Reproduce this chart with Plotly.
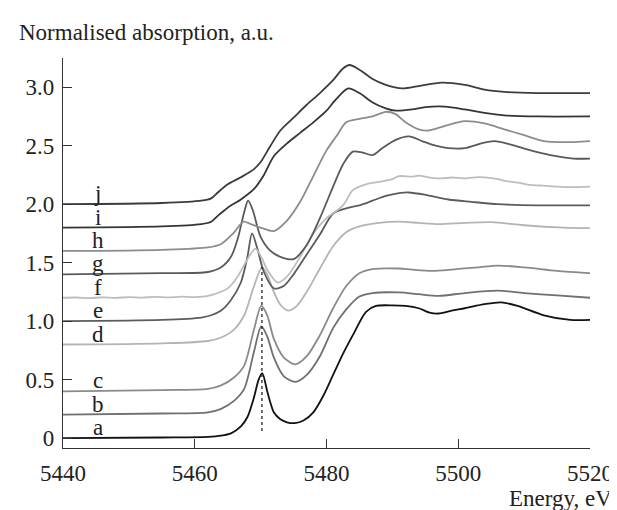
import plotly.graph_objects as go

# ---------------- data ----------------
energy_a = [5440, 5455, 5462, 5464, 5465.5, 5467, 5468, 5469, 5469.7, 5470.25, 5471, 5471.5, 5472, 5473, 5474, 5475.2,
            5476.5, 5478, 5479.5, 5481, 5482.5, 5484, 5486, 5487.5, 5490, 5492, 5494, 5495.8, 5497, 5499, 5501,
            5504, 5506.5, 5509, 5513, 5517, 5520]
abs_a = [0.0, 0.005, 0.01, 0.02, 0.04, 0.10, 0.18, 0.35, 0.50, 0.556, 0.40, 0.30, 0.22, 0.16, 0.135, 0.128,
         0.15, 0.22, 0.36, 0.54, 0.72, 0.88, 1.08, 1.13, 1.135, 1.13, 1.11, 1.07, 1.065, 1.09, 1.11,
         1.145, 1.16, 1.13, 1.05, 1.01, 1.01]

energy_b = [5440, 5455, 5462, 5464, 5466, 5467.5, 5469, 5470.1, 5471, 5472, 5473.5, 5475.3, 5477, 5479, 5481,
            5483, 5485, 5487, 5491, 5494, 5497, 5501, 5506, 5510, 5515, 5520]
abs_b = [0.2, 0.21, 0.22, 0.25, 0.32, 0.42, 0.74, 0.955, 0.87, 0.69, 0.53, 0.48, 0.54, 0.70, 0.94,
         1.10, 1.21, 1.24, 1.245, 1.23, 1.216, 1.24, 1.26, 1.24, 1.22, 1.20]

energy_c = [5440, 5455, 5462, 5464, 5466, 5467.5, 5469, 5470.1, 5471, 5472, 5473.5, 5475.3, 5477, 5479, 5481,
            5483, 5485, 5487, 5491, 5493, 5496, 5499, 5503, 5506, 5510, 5515, 5520]
abs_c = [0.4, 0.41, 0.42, 0.45, 0.52, 0.62, 0.93, 1.13, 1.05, 0.85, 0.69, 0.63, 0.70, 0.88, 1.11,
         1.30, 1.41, 1.445, 1.45, 1.44, 1.43, 1.44, 1.46, 1.475, 1.46, 1.43, 1.41]

energy_d = [5440, 5455, 5462, 5464, 5466, 5467.5, 5469, 5470.2, 5471, 5472, 5473, 5474.2, 5475.5, 5477, 5479,
            5481, 5483, 5485, 5488, 5491, 5494, 5497, 5501, 5505, 5510, 5516, 5520]
abs_d = [0.8, 0.81, 0.83, 0.86, 0.93, 1.05, 1.30, 1.46, 1.40, 1.25, 1.14, 1.09, 1.13, 1.25, 1.45,
         1.64, 1.76, 1.81, 1.84, 1.85, 1.84, 1.83, 1.84, 1.846, 1.82, 1.80, 1.795]

energy_e = [5440, 5455, 5461, 5462.5, 5464, 5465.5, 5467, 5468, 5468.7, 5469.5, 5470.5, 5472, 5473.5, 5475,
            5477, 5479, 5481, 5483, 5485, 5487, 5489, 5491, 5492.5, 5495, 5498.5, 5502, 5506, 5512, 5520]
abs_e = [1.0, 1.01, 1.03, 1.05, 1.09, 1.18, 1.33, 1.55, 1.75, 1.62, 1.42, 1.28, 1.30, 1.40,
         1.57, 1.74, 1.92, 1.965, 1.99, 2.03, 2.07, 2.094, 2.10, 2.08, 2.04, 2.02, 2.0, 1.99, 1.99]

energy_f = [5440, 5442, 5444, 5446, 5448, 5450, 5452, 5454, 5456, 5458, 5460, 5462, 5463, 5465, 5466.5, 5468,
            5469.2, 5470, 5471, 5472.6, 5474, 5476, 5478, 5480, 5482.5, 5484, 5486, 5488, 5490, 5491,
            5493, 5494, 5496, 5497.5, 5499, 5501, 5503, 5504, 5506, 5507, 5509, 5511, 5513, 5515, 5517, 5520]
abs_f = [1.20, 1.202, 1.197, 1.203, 1.199, 1.205, 1.201, 1.207, 1.203, 1.209, 1.206, 1.215, 1.23, 1.28, 1.38, 1.53,
         1.62, 1.56, 1.44, 1.33, 1.38, 1.55, 1.75, 1.88, 1.99, 2.12, 2.17, 2.19, 2.215, 2.24,
         2.235, 2.245, 2.225, 2.22, 2.228, 2.22, 2.232, 2.23, 2.215, 2.20, 2.185, 2.165, 2.158, 2.15, 2.145, 2.15]

energy_g = [5440, 5455, 5462, 5464, 5465.5, 5466.5, 5467.5, 5468.1, 5468.8, 5470, 5471.5, 5473, 5475, 5477,
            5479, 5481, 5482.5, 5484, 5485.5, 5487, 5488.5, 5490.5, 5492.5, 5494.5, 5496, 5498.5, 5501,
            5503.5, 5505.5, 5508, 5511, 5514, 5517.5, 5520]
abs_g = [1.4, 1.41, 1.42, 1.46, 1.55, 1.70, 1.93, 2.03, 1.95, 1.72, 1.60, 1.55, 1.53, 1.65,
         1.88, 2.15, 2.34, 2.45, 2.44, 2.42, 2.48, 2.55, 2.58, 2.54, 2.51, 2.48, 2.48,
         2.52, 2.54, 2.51, 2.46, 2.42, 2.39, 2.39]

energy_h = [5440, 5455, 5462, 5464, 5466, 5467.4, 5468.5, 5470, 5472, 5474, 5476, 5478, 5480, 5481.5, 5483,
            5485, 5487, 5489, 5490.5, 5492, 5494, 5495.5, 5498, 5501, 5504, 5507, 5510, 5513, 5516, 5520]
abs_h = [1.6, 1.61, 1.63, 1.66, 1.76, 1.85, 1.83, 1.80, 1.77, 1.86, 2.02, 2.24, 2.46, 2.58, 2.70,
         2.73, 2.75, 2.79, 2.77, 2.70, 2.64, 2.63, 2.67, 2.71, 2.69, 2.64, 2.59, 2.54, 2.53, 2.54]

energy_i = [5440, 5455, 5461, 5462.5, 5463.5, 5465, 5467, 5469, 5470.5, 5472, 5474, 5476, 5478, 5480, 5481.5,
            5483.3, 5485, 5487, 5489, 5490.5, 5493, 5495, 5498, 5501, 5504, 5507, 5512, 5520]
abs_i = [1.8, 1.81, 1.83, 1.85, 1.90, 1.97, 2.04, 2.13, 2.25, 2.41, 2.52, 2.61, 2.70, 2.80, 2.90,
         2.99, 2.95, 2.87, 2.82, 2.80, 2.81, 2.83, 2.835, 2.81, 2.78, 2.76, 2.75, 2.75]

energy_j = [5440, 5455, 5461, 5462.5, 5463.5, 5465, 5467, 5469, 5470, 5471.5, 5473, 5475, 5477, 5479, 5481,
            5482.5, 5483.5, 5485, 5487, 5489, 5491.5, 5494, 5497.5, 5501, 5504, 5507, 5512, 5520]
abs_j = [2.0, 2.01, 2.03, 2.05, 2.10, 2.17, 2.23, 2.30, 2.36, 2.50, 2.63, 2.74, 2.85, 2.95, 3.06,
         3.16, 3.19, 3.15, 3.07, 3.02, 2.99, 3.01, 3.04, 3.02, 2.98, 2.96, 2.95, 2.95]

curve_names = ["a", "b", "c", "d", "e", "f", "g", "h", "i", "j"]
curve_offsets = [0.0, 0.2, 0.4, 0.8, 1.0, 1.2, 1.4, 1.6, 1.8, 2.0]
curve_colors = ["#111111", "#707070", "#8a8a8a", "#b4b4b4", "#5c5c5c",
                "#bdbdbd", "#5a5a5a", "#8c8c8c", "#353535", "#3c3c3c"]

marker_energy = 5470.2
marker_range = [0.06, 1.46]

x_ticks = [5440, 5460, 5480, 5500, 5520]
y_ticks = [0, 0.5, 1.0, 1.5, 2.0, 2.5, 3.0]
y_ticktext = ["0", "0.5", "1.0", "1.5", "2.0", "2.5", "3.0"]

y_title = "Normalised absorption, a.u."
x_title = "Energy, eV"

# ---------------- figure ----------------
series = {
    "a": (energy_a, abs_a), "b": (energy_b, abs_b), "c": (energy_c, abs_c), "d": (energy_d, abs_d),
    "e": (energy_e, abs_e), "f": (energy_f, abs_f), "g": (energy_g, abs_g), "h": (energy_h, abs_h),
    "i": (energy_i, abs_i), "j": (energy_j, abs_j),
}

FONT = "Liberation Serif, Times New Roman, serif"
FS = 23
TXT = "#222222"
fig = go.Figure()
for name, col in zip(curve_names, curve_colors):
    xs, ys = series[name]
    fig.add_trace(go.Scatter(x=xs, y=ys, mode="lines", name=name,
                             line=dict(color=col, width=1.8, shape="spline", smoothing=0.8),
                             hoverinfo="skip"))

fig.add_trace(go.Scatter(x=[marker_energy, marker_energy], y=marker_range, mode="lines",
                         line=dict(color="#111111", width=1.2, dash="dot"), hoverinfo="skip"))

annotations = []
for name, off in zip(curve_names, curve_offsets):
    annotations.append(dict(x=5445.3, y=off, xref="x", yref="y", text=name, showarrow=False,
                            xanchor="center", yanchor="bottom", yshift=-3, borderpad=0,
                            font=dict(family=FONT, size=FS, color=TXT)))
annotations.append(dict(x=0, y=1, xref="paper", yref="paper", text=y_title, showarrow=False,
                        xanchor="left", yanchor="middle", xshift=-46, yshift=26,
                        font=dict(family=FONT, size=FS, color=TXT)))
annotations.append(dict(x=1, y=0, xref="paper", yref="paper", text=x_title, showarrow=False,
                        xanchor="right", yanchor="middle", xshift=23, yshift=-50, borderpad=0,
                        font=dict(family=FONT, size=FS, color=TXT)))

fig.update_layout(
    width=617, height=510,
    margin=dict(l=55, r=27, t=50, b=70),
    paper_bgcolor="white", plot_bgcolor="white",
    showlegend=False,
    annotations=annotations,
    font=dict(family=FONT, size=FS, color=TXT),
)
fig.update_xaxes(range=[5440, 5520], tickvals=x_ticks, ticks="inside", ticklen=9, tickwidth=1.3,
                 tickcolor="#333333", showline=True, linecolor="#333333", linewidth=1.3,
                 showgrid=False, zeroline=False, ticklabelstandoff=4,
                 tickfont=dict(family=FONT, size=FS, color=TXT))
fig.update_yaxes(range=[-0.085, 3.25], tickvals=y_ticks, ticktext=y_ticktext, ticks="inside", ticklen=9,
                 tickwidth=1.3, tickcolor="#333333", showline=True, linecolor="#333333", linewidth=1.3,
                 showgrid=False, zeroline=False, ticklabelstandoff=3,
                 tickfont=dict(family=FONT, size=FS, color=TXT))

fig.write_html("out.html")
